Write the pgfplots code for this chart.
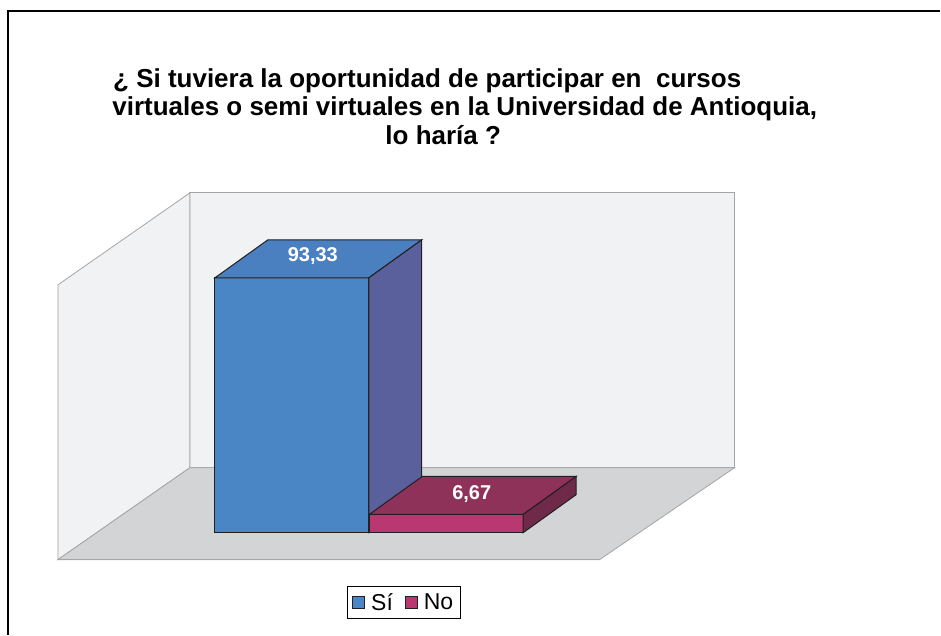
\documentclass[border=0pt]{standalone}
\usepackage{pgfplots}
\pgfplotsset{compat=1.18}
\usepackage{fontspec}
\setmainfont{Liberation Sans}
\definecolor{siF}{RGB}{74,134,198}
\definecolor{siT}{RGB}{74,128,192}
\definecolor{siS}{RGB}{89,96,155}
\definecolor{noF}{RGB}{185,56,114}
\definecolor{noT}{RGB}{143,50,89}
\definecolor{noS}{RGB}{110,42,72}
\definecolor{wall}{RGB}{241,242,244}
\definecolor{floorc}{RGB}{211,212,214}
\definecolor{edge}{RGB}{165,165,165}
\definecolor{barline}{RGB}{35,31,32}
\begin{document}
\begin{tikzpicture}
\begin{axis}[
 width=941pt,height=635pt,scale only axis,
 axis lines=none, xmin=0,xmax=941, ymin=-37.34, ymax=195.10,
 clip=false,
 legend columns=2,
 legend style={at={(axis cs:404,-25.6)},anchor=center, draw=black, line width=0.6pt,
   font=\fontsize{23}{25}\selectfont, inner xsep=5pt, inner ysep=5pt,
   /tikz/every odd column/.append style={column sep=4pt},
   /tikz/every even column/.append style={column sep=10pt}},
 legend image code/.code={\draw[#1, draw=barline, line width=1pt] (0pt,-6pt) rectangle (12pt,6pt);},
]
\path (axis cs:0,-37.34) rectangle (axis cs:941,195.10);
% frame
\addplot[forget plot, draw=black, line width=1.2pt] coordinates {(8,-37.34)(8,191.1)(941,191.1)};
% back wall
\addplot[forget plot, fill=wall, draw=edge, line width=0.8pt] coordinates {(190,124.45)(735,124.45)(735,23.79)(190,23.79)} --cycle;
% left wall
\addplot[forget plot, fill=wall, draw=edge, line width=0.8pt] coordinates {(58,90.78)(190,124.45)(190,23.79)(58,-9.88)} --cycle;
% floor
\addplot[forget plot, fill=floorc, draw=edge, line width=0.8pt] coordinates {(58,-9.88)(600,-9.88)(735,23.79)(190,23.79)} --cycle;
% Si bar
\addplot[ybar, bar width=154, bar shift=0, fill=siF, draw=barline, line width=1pt] coordinates {(292,93.33)};
\addlegendentry{Sí}
\addplot[forget plot, fill=siT, draw=barline, line width=1pt] coordinates {(215,93.33)(369,93.33)(422,107.24)(268,107.24)} --cycle;
\addplot[forget plot, fill=siS, draw=barline, line width=1pt] coordinates {(369,0)(422,13.91)(422,107.24)(369,93.33)} --cycle;
% No bar
\addplot[ybar, bar width=154, bar shift=0, fill=noF, draw=barline, line width=1pt] coordinates {(446.5,6.67)};
\addlegendentry{No}
\addplot[forget plot, fill=noT, draw=barline, line width=1pt] coordinates {(369.5,6.67)(523.5,6.67)(576.5,20.58)(422.5,20.58)} --cycle;
\addplot[forget plot, fill=noS, draw=barline, line width=1pt] coordinates {(523.5,0)(576.5,13.91)(576.5,20.58)(523.5,6.67)} --cycle;
% labels
\node[font=\bfseries\fontsize{20}{22}\selectfont, text=white] at (axis cs:313,101.2) {93,33};
\node[font=\bfseries\fontsize{20}{22}\selectfont, text=white] at (axis cs:472,14.2) {6,67};
% title
\node[font=\bfseries\fontsize{26}{28}\selectfont, anchor=base] at (axis cs:427.5,163.2) {¿ Si tuviera la oportunidad de participar en\ \ cursos};
\node[font=\bfseries\fontsize{26}{28}\selectfont, anchor=base] at (axis cs:465,152.9) {virtuales o semi virtuales en la Universidad de Antioquia,};
\node[font=\bfseries\fontsize{26}{28}\selectfont, anchor=base] at (axis cs:443.5,142.3) {lo haría ?};
\end{axis}
\end{tikzpicture}
\end{document}
